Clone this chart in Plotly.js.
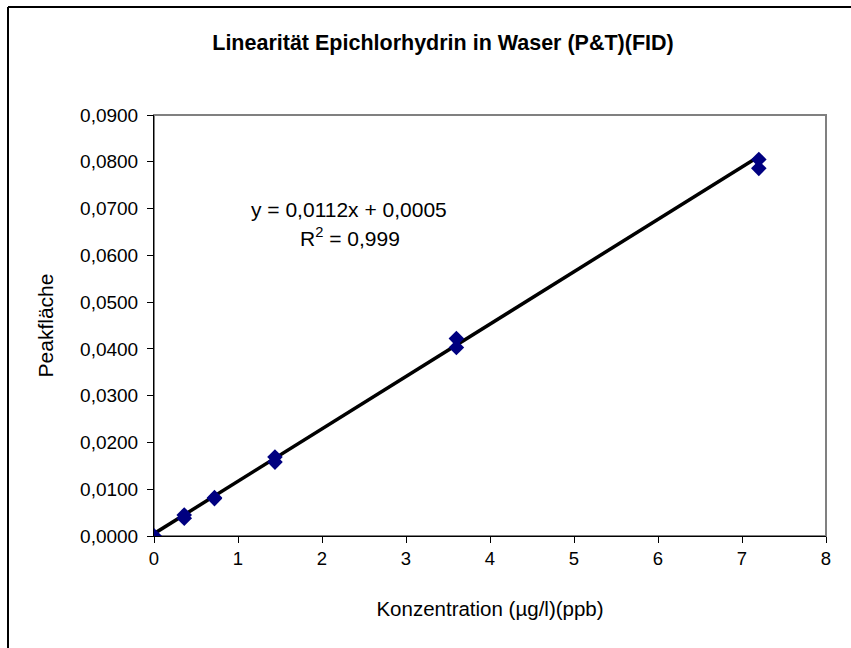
<!DOCTYPE html>
<html>
<head>
<meta charset="utf-8">
<script src="https://cdn.plot.ly/plotly-2.35.2.min.js"></script>
<style>html,body{margin:0;padding:0;background:#fff;}#chart{width:851px;height:648px;}</style>
</head>
<body>
<div id="chart"></div>
<script>
// Data
const konzentration = [0, 0, 0.36, 0.36, 0.72, 0.72, 1.44, 1.44, 3.6, 3.6, 7.2, 7.2];
const peakflaeche   = [0, 0, 0.0045, 0.0038, 0.0080, 0.0082, 0.0169, 0.0158, 0.0422, 0.0403, 0.0805, 0.0786];
const slope = 0.0112;
const intercept = 0.0005;
const trendX = [0, 7.2];
const titleText = 'Linearität Epichlorhydrin in Waser (P&T)(FID)';
const xTitle = 'Konzentration (µg/l)(ppb)';
const yTitle = 'Peakfläche';
const eqText = 'y = 0,0112x + 0,0005';
const r2Text = 'R<sup>2</sup> = 0,999';

const W = 851, H = 648;
const m = {l: 154, r: 25, t: 115, b: 112};
const pw = W - m.l - m.r, ph = H - m.t - m.b;
const px = v => (v - m.l) / pw;           // pixel x -> paper x
const py = v => (H - m.b - v) / ph;       // pixel y -> paper y

const font = 'Arial, "Liberation Sans", sans-serif';

const traces = [
  {
    x: trendX,
    y: trendX.map(v => slope * v + intercept),
    mode: 'lines',
    line: {color: '#000000', width: 3.5},
    hoverinfo: 'skip',
    showlegend: false
  },
  {
    x: konzentration,
    y: peakflaeche,
    mode: 'markers',
    marker: {symbol: 'diamond', color: '#000080', size: 12, line: {width: 0}},
    showlegend: false
  }
];

const layout = {
  width: W, height: H,
  margin: m,
  paper_bgcolor: '#ffffff',
  plot_bgcolor: '#ffffff',
  separators: ',.',
  font: {family: font, size: 18, color: '#000000'},
  title: {
    text: '<b>' + titleText + '</b>',
    font: {family: font, size: 21.5, color: '#000000'},
    xref: 'paper', x: px(443), xanchor: 'center',
    yref: 'container', y: 1 - 42 / H, yanchor: 'middle'
  },
  xaxis: {
    range: [0, 8], dtick: 1, tick0: 0,
    showgrid: false, zeroline: false,
    showline: true, linecolor: '#000000', linewidth: 1,
    ticks: 'outside', ticklen: 6, tickcolor: '#000000',
    tickfont: {family: font, size: 18.5, color: '#000000'},
    title: {text: xTitle, font: {family: font, size: 20.5, color: '#000000'}, standoff: 33}
  },
  yaxis: {
    range: [0, 0.09], dtick: 0.01, tick0: 0,
    tickformat: '.4f',
    showgrid: false, zeroline: false,
    showline: true, linecolor: '#000000', linewidth: 1,
    ticks: 'outside', ticklen: 6, tickcolor: '#000000',
    ticklabelstandoff: 5,
    tickfont: {family: font, size: 19, color: '#000000'},
    title: {text: yTitle, font: {family: font, size: 21, color: '#000000'}, standoff: 20}
  },
  shapes: [
    {type: 'rect', xref: 'paper', yref: 'paper', x0: 0, x1: 1, y0: 0, y1: 1,
     line: {color: '#808080', width: 2}, layer: 'below'},
    {type: 'line', xref: 'paper', yref: 'paper', x0: px(8), x1: px(8), y0: py(7), y1: py(H + 2),
     line: {color: '#000000', width: 2}},
    {type: 'line', xref: 'paper', yref: 'paper', x0: px(8), x1: px(W + 2), y0: py(7), y1: py(7),
     line: {color: '#000000', width: 2}}
  ],
  annotations: [
    {text: eqText, xref: 'paper', yref: 'paper', x: px(349), y: py(209),
     xanchor: 'center', yanchor: 'middle', showarrow: false,
     font: {family: font, size: 21, color: '#000000'}},
    {text: r2Text, xref: 'paper', yref: 'paper', x: px(350), y: py(237),
     xanchor: 'center', yanchor: 'middle', showarrow: false,
     font: {family: font, size: 21, color: '#000000'}}
  ]
};

Plotly.newPlot('chart', traces, layout, {displayModeBar: false, staticPlot: true});
</script>
</body>
</html>
